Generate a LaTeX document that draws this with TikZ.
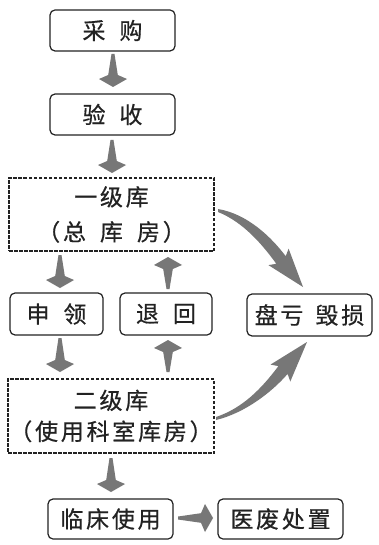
\documentclass[tikz,border=0pt]{standalone}
\usepackage{fontspec}
\newfontfamily\cjk[LetterSpace=12,FakeBold=0.6]{Noto Sans CJK SC}
\usetikzlibrary{calc}
\definecolor{arrowgray}{HTML}{777777}
\definecolor{ink}{HTML}{222222}
\tikzset{
  boxbase/.style={draw=ink, line width=1.2pt, text=ink, inner sep=0pt,
    font=\cjk\fontsize{23pt}{35pt}\selectfont, align=center},
  solidbox/.style={boxbase, rounded corners=5pt},
  dashbox/.style={boxbase, line width=1.4pt, dash pattern=on 3.5pt off 1.5pt},
}
\newcommand\barrow[2]{%
  \fill[arrowgray] let \p1=(#1), \p2=(#2),
    \n1={atan2(\y2-\y1,\x2-\x1)}, \n2={veclen(\x2-\x1,\y2-\y1)} in
    [shift={(\p1)}, rotate=\n1]
    (0pt,1.5pt) -- ({\n2*1pt-12pt},4.8pt) -- ({\n2*1pt-8pt},14pt) -- ({\n2*1pt},0pt)
    -- ({\n2*1pt-8pt},-14pt) -- ({\n2*1pt-12pt},-4.8pt) -- (0pt,-1.5pt) -- cycle;
}
\begin{document}
\begin{tikzpicture}[x=1pt,y=-1pt]
\useasboundingbox (0,0) rectangle (378,545);
\fill[white] (0,0) rectangle (378,545);

\node[solidbox, minimum width=125pt, minimum height=41pt] (cg) at (112.5,30.5) {采\hspace{14pt}购};
\node[solidbox, minimum width=125pt, minimum height=41pt] (ys) at (112.5,114.5) {验\hspace{14pt}收};
\node[dashbox, minimum width=205pt, minimum height=73pt] (k1) at (111.5,214.5) {一级库\\（总\hspace{14pt}库\hspace{14pt}房）};
\node[solidbox, minimum width=93pt, minimum height=42pt] (sl) at (56.5,314) {申\hspace{14pt}领};
\node[solidbox, minimum width=92pt, minimum height=42pt] (th) at (166,314) {退\hspace{14pt}回};
\node[solidbox, minimum width=125pt, minimum height=42pt] (pk) at (309.5,315) {盘亏\hspace{12pt}毁损};
\node[dashbox, minimum width=206pt, minimum height=74pt, font=\cjk\fontsize{23pt}{31pt}\selectfont] (k2) at (111,416) {二级库\\（使用科室库房）};
\node[solidbox, minimum width=125pt, minimum height=40pt] (lc) at (110.5,519) {临床使用};
\node[solidbox, minimum width=125pt, minimum height=40pt] (yf) at (280.5,519) {医废处置};

% straight block arrows (tail, tip)
\coordinate (a1t) at (113,54);  \coordinate (a1h) at (113,87);
\coordinate (a2t) at (112,140); \coordinate (a2h) at (112,173);
\coordinate (a3t) at (60,255);  \coordinate (a3h) at (60,288);
\coordinate (a4t) at (168,289); \coordinate (a4h) at (168,257);
\coordinate (a5t) at (60,338);  \coordinate (a5h) at (60,372);
\coordinate (a6t) at (168,372); \coordinate (a6h) at (168,340);
\coordinate (a7t) at (111,458); \coordinate (a7h) at (111,492);
\coordinate (a8t) at (178,518); \coordinate (a8h) at (213,518);
\barrow{a1t}{a1h}
\barrow{a2t}{a2h}
\barrow{a3t}{a3h}
\barrow{a4t}{a4h}
\barrow{a5t}{a5h}
\barrow{a6t}{a6h}
\barrow{a7t}{a7h}
\barrow{a8t}{a8h}

% curved arrow from 一级库 to 盘亏毁损
\fill[arrowgray] (218,209) .. controls (248,214) and (272,238) .. (285.7,256.2)
  -- (288.6,248.7) -- (303,287) -- (268.4,265.1) -- (276.3,263.8)
  .. controls (262,244) and (243,222) .. (218,212) -- cycle;
% curved arrow from 二级库 to 盘亏毁损
\fill[arrowgray] (216,420) .. controls (245,413) and (272,392) .. (287.6,373.9)
  -- (290.3,381.5) -- (307,342) -- (270.5,364.6) -- (278.4,366.1)
  .. controls (262,388) and (243,408) .. (216,417) -- cycle;
\end{tikzpicture}
\end{document}
